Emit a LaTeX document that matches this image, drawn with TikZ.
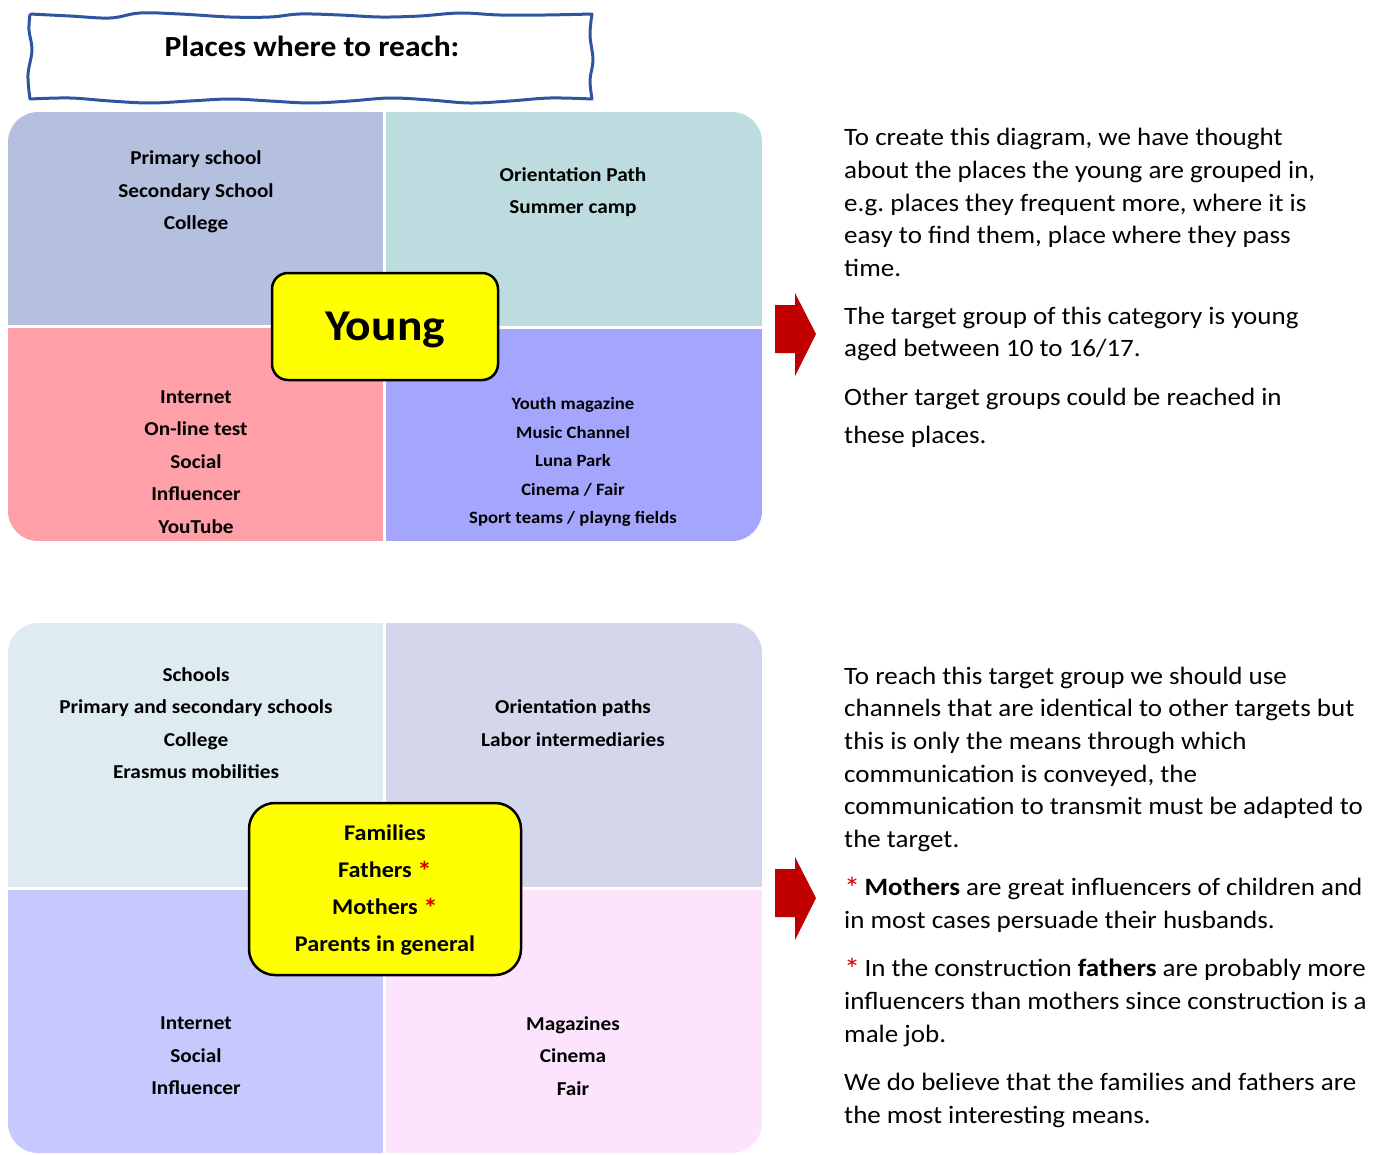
\documentclass[tikz,border=0pt]{standalone}
\usepackage{fontspec}
\setmainfont{Carlito}[FakeStretch=1.08]
\frenchspacing
\definecolor{waveblue}{HTML}{2F55A0}
\definecolor{arrowred}{HTML}{C00000}
\definecolor{starred}{HTML}{D00000}
\definecolor{qa}{HTML}{B4C0DE}
\definecolor{qb}{HTML}{BCDCDF}
\definecolor{qc}{HTML}{FFA0A8}
\definecolor{qd}{HTML}{A3A6FC}
\definecolor{qe}{HTML}{DEEBF0}
\definecolor{qf}{HTML}{D4D7EC}
\definecolor{qg}{HTML}{C7C8FD}
\definecolor{qh}{HTML}{FCE4FC}
\definecolor{hiyellow}{HTML}{FFFF00}
\newcommand{\redstar}{\textcolor{starred}{\raisebox{-0.14em}{\scalebox{1.2}{*}}}}
\newcommand{\boldredstar}{\textcolor{starred}{\raisebox{-0.14em}{\scalebox{1.2}{\bfseries *}}}}
\tikzset{
  quad/.style={font=\fontsize{19.7}{32.5}\selectfont\bfseries, align=center, inner sep=0pt},
  quadsmall/.style={font=\fontsize{17.3}{28.5}\selectfont\bfseries, align=center, inner sep=0pt},
  centerbox/.style={draw=black, line width=2.5pt, fill=hiyellow},
  body/.style={anchor=base west, inner sep=0pt, font=\fontsize{25}{28}\selectfont},
  bigarrow/.style={fill=arrowred, draw=none}
}
\begin{document}
\begin{tikzpicture}[x=1pt,y=-1pt]
\useasboundingbox (0,0) rectangle (1375,1154);

% hand-drawn title frame
\draw[waveblue, line width=3pt, line join=round]
  plot[smooth, tension=0.6] coordinates {
    (30,14) (70,16) (110,18) (140,13) (180,14) (230,17) (270,17) (300,14)
    (340,15) (380,17) (420,16) (460,13) (500,15) (545,15) (592,14)}
  -- plot[smooth, tension=0.6] coordinates {
    (592,14) (590,35) (593,60) (590,80) (592,99)}
  -- plot[smooth, tension=0.6] coordinates {
    (592,99) (550,98) (510,101) (470,103) (430,100) (390,98) (350,101)
    (310,103) (270,101) (230,99) (190,101) (150,103) (110,101) (70,98) (30,99)}
  -- plot[smooth, tension=0.6] coordinates {
    (30,99) (28,75) (32,50) (29,30) (30,14)};
\node[font=\fontsize{29.2}{30}\selectfont\bfseries, inner sep=0pt] (title) at (312,46) {Places where to reach:};

% first quadrant panel
\begin{scope}
  \clip[rounded corners=30pt] (8,112) rectangle (762,541);
  \fill[qa] (8,112) rectangle (383,325);
  \fill[qb] (386,112) rectangle (762,326);
  \fill[qc] (8,328) rectangle (383,541);
  \fill[qd] (386,329) rectangle (762,541);
\end{scope}
\node[quad] (ya) at (196,192) {Primary school\\Secondary School\\College};
\node[quad] (yb) at (573,192) {Orientation Path\\Summer camp};
\node[quad] (yc) at (196,462) {Internet\\On-line test\\Social\\Influencer\\YouTube};
\node[quadsmall] (yd) at (573,462) {Youth magazine\\Music Channel\\Luna Park\\Cinema / Fair\\Sport teams / playng fields};
\draw[centerbox, rounded corners=16pt] (272,273) rectangle (498,380);
\node[font=\fontsize{44}{50}\selectfont\bfseries, inner sep=0pt] (young) at (385,330) {Young};

% second quadrant panel
\begin{scope}
  \clip[rounded corners=30pt] (8,623) rectangle (762,1153);
  \fill[qe] (8,623) rectangle (383,887);
  \fill[qf] (386,623) rectangle (762,887);
  \fill[qg] (8,890) rectangle (383,1153);
  \fill[qh] (386,890) rectangle (762,1153);
\end{scope}
\node[quad] (fa) at (196,723) {Schools\\Primary and secondary schools\\College\\Erasmus mobilities};
\node[quad] (fb) at (573,723) {Orientation paths\\Labor intermediaries};
\node[quad] (fc) at (196,1056) {Internet\\Social\\Influencer};
\node[quad] (fd) at (573,1056) {Magazines\\Cinema\\Fair};
\draw[centerbox, rounded corners=26pt] (249,803) rectangle (521,975);
\node[font=\fontsize{22.4}{37}\selectfont\bfseries, align=center, inner sep=0pt] (families) at (385,890)
  {Families\\Fathers \boldredstar\\Mothers \boldredstar\\Parents in general};

% arrows pointing to the notes
\fill[bigarrow] (775,305) -- (795,305) -- (795,293) -- (816,334) -- (795,376) -- (795,353) -- (775,353) -- cycle;
\fill[bigarrow] (775,869) -- (795,869) -- (795,857) -- (816,898) -- (795,940) -- (795,917) -- (775,917) -- cycle;

% notes for the first panel
\node[body] (n1) at (844,145) {To create this diagram, we have thought};
\node[body] (n2) at (844,178) {about the places the young are grouped in,};
\node[body] (n3) at (844,211) {e.g. places they frequent more, where it is};
\node[body] (n4) at (844,243) {easy to find them, place where they pass};
\node[body] (n5) at (844,276) {time.};
\node[body] (n6) at (844,324) {The target group of this category is young};
\node[body] (n7) at (844,356) {aged between 10 to 16/17.};
\node[body] (n8) at (844,405) {Other target groups could be reached in};
\node[body] (n9) at (844,443) {these places.};

% notes for the second panel
\node[body] (m1) at (844,684) {To reach this target group we should use};
\node[body] (m2) at (844,716) {channels that are identical to other targets but};
\node[body] (m3) at (844,749) {this is only the means through which};
\node[body] (m4) at (844,782) {communication is conveyed, the};
\node[body] (m5) at (844,814) {communication to transmit must be adapted to};
\node[body] (m6) at (844,847) {the target.};
\node[body] (m7) at (844,895) {\redstar{}\,\textbf{Mothers} are great influencers of children and};
\node[body] (m8) at (844,928) {in most cases persuade their husbands.};
\node[body] (m9) at (844,976) {\redstar{}\,In the construction \textbf{fathers} are probably more};
\node[body] (m10) at (844,1009) {influencers than mothers since construction is a};
\node[body] (m11) at (844,1042) {male job.};
\node[body] (m12) at (844,1090) {We do believe that the families and fathers are};
\node[body] (m13) at (844,1123) {the most interesting means.};
\end{tikzpicture}
\end{document}
